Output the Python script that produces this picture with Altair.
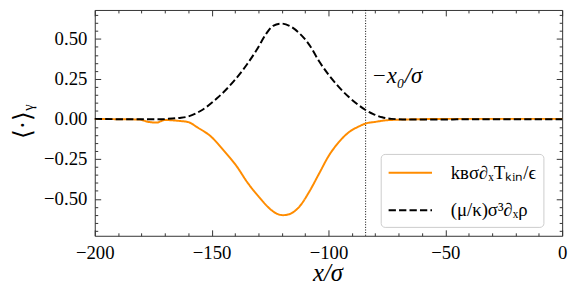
import altair as alt
import pandas as pd

FONT = "Liberation Serif"

# ---- data ----
orange_x = [-200, -190, -181, -177, -173.6, -170, -166, -163, -160, -156, -150.4,
            -144.8, -139.1, -134.9, -129.3, -125.1, -122.5, -119.5, -117, -112.4,
            -108.2, -104, -99.8, -95.6, -91.4, -87.1, -83.6, -80.1, -76, -70,
            -60, -50, -40, -30, -20, -10, 0]
orange_y = [0.0, -0.002, -0.004, -0.019, -0.023, -0.007, -0.01, -0.014, -0.02,
            -0.054, -0.109, -0.198, -0.30, -0.393, -0.496, -0.562, -0.59, -0.602,
            -0.597, -0.548, -0.455, -0.342, -0.229, -0.146, -0.085, -0.048, -0.027,
            -0.019, -0.01, -0.005, -0.002, 0.0, 0.0, 0.0, 0.0, 0.0, 0.0]

dashed_x = [-200, -190, -180, -172, -168.7, -164, -160.2, -154.6, -147.6, -140.5,
            -134.9, -130.7, -126.5, -123.7, -120.2, -116.7, -112.4, -108.2, -104,
            -99.8, -95.6, -91.4, -87.1, -84.3, -80.8, -77, -73, -65, -55, -45,
            -35, -25, -15, -5, 0]
dashed_y = [0.0, -0.002, -0.003, -0.003, 0.0, 0.006, 0.014, 0.051, 0.13, 0.236,
            0.34, 0.432, 0.535, 0.582, 0.596, 0.582, 0.535, 0.463, 0.36, 0.273,
            0.2, 0.138, 0.086, 0.057, 0.03, 0.01, 0.0, -0.004, -0.004, -0.003,
            -0.002, -0.002, -0.002, -0.002, -0.002]

series_names = ["kʙσ∂ₓTₖᵢₙ/ϵ", "(μ/κ)σ³∂ₓρ"]
series_colors = ["#ff8c00", "#000000"]
series_dashes = [[1, 0], [7.4, 3.2]]

x0_line = [-84.1]
annot_x = [-81.6]
annot_y = [0.27]
annot_text = ["−x₀/σ"]

x_major = [-200, -150, -100, -50, 0]
x_minor = [v for v in range(-190, 0, 10) if v % 50 != 0]
y_major = [-0.5, -0.25, 0.0, 0.25, 0.5]
y_minor = [-0.7, -0.65, -0.6, -0.55, -0.45, -0.4, -0.35, -0.3, -0.2, -0.15, -0.1,
           -0.05, 0.05, 0.1, 0.15, 0.2, 0.3, 0.35, 0.4, 0.45, 0.55, 0.6, 0.65]

W, H = 474, 229
TICK = "#333333"

df_o = pd.DataFrame({"x": orange_x, "y": orange_y, "series": series_names[0]})
df_d = pd.DataFrame({"x": dashed_x, "y": dashed_y, "series": series_names[1]})

x_scale = alt.Scale(domain=[-200, 0], nice=False, zero=False)
y_scale = alt.Scale(domain=[-0.731, 0.681], nice=False, zero=False)

legend = alt.Legend(
    title=None, orient="none", legendX=290, legendY=146, padding=7,
    strokeColor="#cccccc", fillColor="white", cornerRadius=4,
    symbolType="M-2,0L2,0", symbolSize=484, symbolStrokeWidth=2, symbolOffset=11,
    labelFont=FONT, labelFontSize=19, labelColor="black", labelOffset=29,
    rowPadding=16, labelLimit=300,
)
color = alt.Color("series:N", scale=alt.Scale(domain=series_names, range=series_colors), legend=legend)
dash = alt.StrokeDash("series:N", scale=alt.Scale(domain=series_names, range=series_dashes), legend=legend)


def tick_axis(orient, values, size, offset):
    return alt.Axis(orient=orient, values=values, tickSize=size, offset=offset,
                    labels=False, domain=False, grid=False, title=None, ticks=True,
                    tickColor=TICK, tickWidth=1)


x_label_axis = alt.Axis(
    orient="bottom", values=x_major, ticks=False, tickSize=0, domain=False, grid=False,
    labelPadding=8, labelFont=FONT, labelFontSize=19, labelColor="black", format="d",
    labelFlush=False, labelOverlap=False,
    title="x/σ", titleFont=FONT, titleFontSize=25, titleFontStyle="italic",
    titleFontWeight="normal", titleColor="black", titleX=236, titleY=45,
    titleBaseline="alphabetic", titleAlign="center",
)
y_label_axis = alt.Axis(
    orient="left", values=y_major, ticks=False, tickSize=0, domain=False, grid=False,
    labelPadding=8, labelFont=FONT, labelFontSize=19, labelColor="black", format=".2f",
    labelFlush=False, labelOverlap=False,
    title="⟨·⟩ᵧ", titleFont=FONT, titleFontSize=25, titleFontWeight="normal",
    titleColor="black", titleX=-73, titleY=113, titleAngle=-90,
    titleBaseline="middle", titleAlign="center",
)

orange = alt.Chart(df_o).mark_line(strokeWidth=2, interpolate="monotone").encode(
    x=alt.X("x:Q", scale=x_scale, axis=x_label_axis),
    y=alt.Y("y:Q", scale=y_scale, axis=y_label_axis),
    color=color, strokeDash=dash,
)
dashed = alt.Chart(df_d).mark_line(strokeWidth=2, interpolate="monotone").encode(
    x=alt.X("x:Q", scale=x_scale, axis=tick_axis("top", x_major, 6, -H)),
    y=alt.Y("y:Q", scale=y_scale, axis=tick_axis("right", y_major, 6, -W)),
    color=color, strokeDash=dash,
)
inv1 = alt.Chart(df_d).mark_line(strokeOpacity=0).encode(
    x=alt.X("x:Q", scale=x_scale, axis=tick_axis("bottom", x_major, 6, -H)),
    y=alt.Y("y:Q", scale=y_scale, axis=tick_axis("left", y_major, 6, -W)),
)
inv2 = alt.Chart(df_d).mark_line(strokeOpacity=0).encode(
    x=alt.X("x:Q", scale=x_scale, axis=tick_axis("top", x_minor, 3, -H)),
    y=alt.Y("y:Q", scale=y_scale, axis=tick_axis("right", y_minor, 3, -W)),
)
inv3 = alt.Chart(df_d).mark_line(strokeOpacity=0).encode(
    x=alt.X("x:Q", scale=x_scale, axis=tick_axis("bottom", x_minor, 3, -H)),
    y=alt.Y("y:Q", scale=y_scale, axis=tick_axis("left", y_minor, 3, -W)),
)
rule = alt.Chart(pd.DataFrame({"x": x0_line})).mark_rule(
    color="black", strokeWidth=1, strokeDash=[1, 1.65]
).encode(x=alt.X("x:Q", scale=x_scale, axis=None))
text = alt.Chart(pd.DataFrame({"x": annot_x, "y": annot_y, "t": annot_text})).mark_text(
    align="left", baseline="middle", font=FONT, fontSize=23, fontStyle="italic", color="black"
).encode(
    x=alt.X("x:Q", scale=x_scale, axis=None),
    y=alt.Y("y:Q", scale=y_scale, axis=None),
    text="t:N",
)

chart = alt.layer(inv1, inv2, inv3, rule, orange, dashed, text).resolve_axis(
    x="independent", y="independent"
).properties(
    width=W, height=H, autosize="none",
    padding={"left": 88, "top": 0, "right": 11, "bottom": 54},
).configure_view(stroke=TICK, strokeWidth=1)

chart.save("out.html", embed_options={"renderer": "svg", "actions": False})
